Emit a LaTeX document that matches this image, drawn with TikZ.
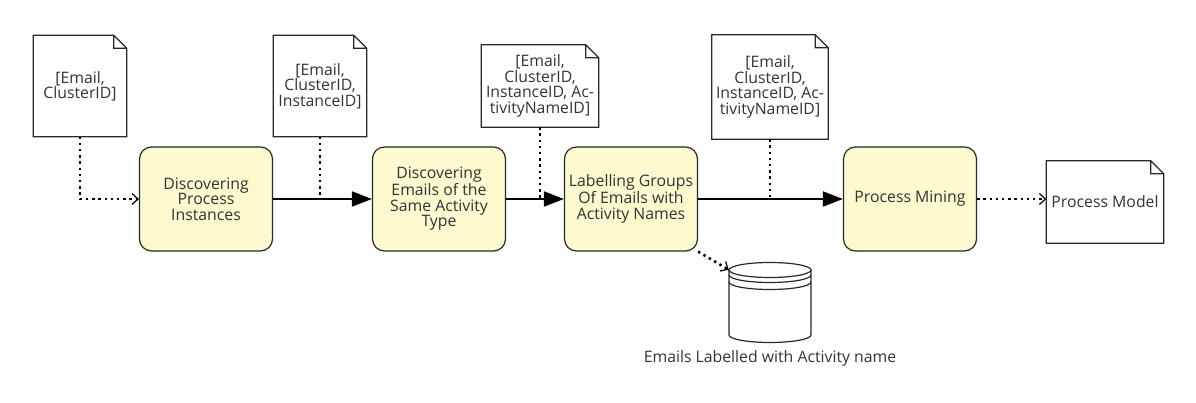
\documentclass[tikz,border=0pt]{standalone}
\usepackage{fontspec}
\setmainfont{Open Sans}
\usetikzlibrary{arrows.meta, positioning}
\definecolor{ProcYellow}{RGB}{252,250,206}
\definecolor{LineGray}{RGB}{40,40,40}

\begin{document}
\begin{tikzpicture}[x=1pt, y=-1pt, font=\fontsize{15.8}{15.5}\selectfont, text=black!80,
	proc/.style={rectangle, rounded corners=12pt, draw=LineGray, line width=1.2pt, fill=ProcYellow,
		minimum width=133pt, minimum height=104pt, align=center, inner sep=1pt},
	doc/.style={rectangle, align=center, inner sep=1pt, append after command={
		\pgfextra{\draw[LineGray, line width=1.2pt] (\tikzlastnode.south west) -- (\tikzlastnode.north west)
			-- ([xshift=-13pt]\tikzlastnode.north east) -- ([yshift=-13pt]\tikzlastnode.north east)
			-- (\tikzlastnode.south east) -- cycle
			([xshift=-13pt]\tikzlastnode.north east) |- ([yshift=-13pt]\tikzlastnode.north east);}}},
	flow/.style={line width=1.8pt, -{Triangle[length=20pt, width=15pt]}},
	dep/.style={line width=2.6pt, dash pattern=on 2.4pt off 3.8pt,
		-{Straight Barb[length=6pt, width=11pt, line width=1.2pt]}},
	link/.style={line width=2.6pt, dash pattern=on 2.4pt off 3.8pt}]

	\useasboundingbox (0,0) rectangle (1196,403);

	% process steps
	\node[proc] (b1) at (206,199) {Discovering\\Process\\Instances};
	\node[proc] (b2) at (439,199) {Discovering\\Emails of the\\Same Activity\\Type};
	\node[proc] (b3) at (631,199) {Labelling Groups\\Of Emails with\\Activity Names};
	\node[proc] (b4) at (910,199) {Process Mining};

	% data documents
	\node[doc, minimum width=93pt, minimum height=101pt] (d1) at (80,86) {[Email,\\ClusterID]};
	\node[doc, minimum width=93pt, minimum height=101pt] (d2) at (320,86) {[Email,\\ClusterID,\\InstanceID]};
	\node[doc, minimum width=117pt, minimum height=82pt] (d3) at (540,86)
		{[Email,\\ClusterID,\\InstanceID, Ac-\\tivityNameID]};
	\node[doc, minimum width=116pt, minimum height=104pt] (d4) at (770,87)
		{[Email,\\ClusterID,\\InstanceID, Ac-\\tivityNameID]};
	\node[doc, minimum width=117pt, minimum height=82pt] (d5) at (1105,202) {Process Model};

	% data store
	\node[minimum width=82pt, minimum height=80pt, inner sep=0pt] (db) at (770,302) {};
	\begin{scope}[draw=LineGray, line width=1.2pt]
		\draw (770,270) ellipse [x radius=41, y radius=7.5];
		\draw (729,275) arc[start angle=180, end angle=0, x radius=41, y radius=7.5];
		\draw (729,282) arc[start angle=180, end angle=0, x radius=41, y radius=7.5];
		\draw (729,270) -- (729,335) arc[start angle=180, end angle=0, x radius=41, y radius=7.5] -- (811,270);
	\end{scope}
	\node (dblab) at (770,358) {Emails Labelled with Activity name};

	% flows
	\draw[dep] (d1.south) |- (b1.west);
	\draw[flow] (b1.east) -- (b2.west);
	\draw[flow] (b2.east) -- (b3.west);
	\draw[flow] (b3.east) -- (b4.west);
	\draw[dep] (b4.east) -- (b4.east -| d5.west);
	\draw[dep] (b3.south east) -- ([yshift=-8pt]db.north west);

	% data attached to flows
	\draw[link] (d2.south) -- (d2.south |- b1.east);
	\draw[link] (d3.south) -- (d3.south |- b2.east);
	\draw[link] (d4.south) -- (d4.south |- b3.east);
\end{tikzpicture}
\end{document}
